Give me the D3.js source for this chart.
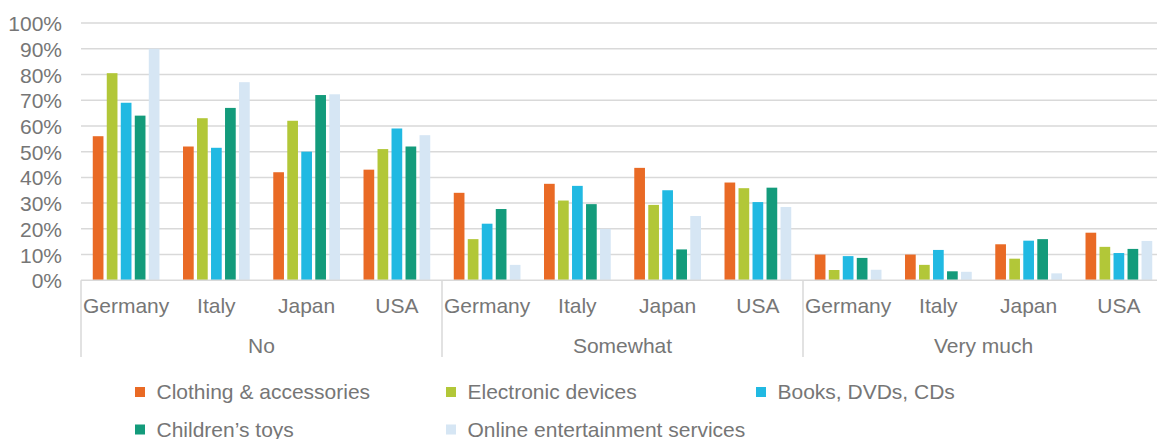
<!DOCTYPE html>
<html>
<head>
<meta charset="utf-8">
<script src="https://cdn.jsdelivr.net/npm/d3@7"></script>
<style>
  html, body { margin: 0; padding: 0; background: #fff; }
  svg text { font-family: "Liberation Sans", Arial, sans-serif; fill: #767676; }
</style>
</head>
<body>
<svg id="chart" width="1157" height="439"></svg>
<script>
const groups = ["No", "Somewhat", "Very much"];
const countries = ["Germany", "Italy", "Japan", "USA"];
const seriesNames = ["Clothing & accessories", "Electronic devices", "Books, DVDs, CDs", "Children\u2019s toys", "Online entertainment services"];
const colors = ["#E96A25", "#B2C738", "#21B9E2", "#139B7B", "#D6E6F4"];
const yTicks = [0, 10, 20, 30, 40, 50, 60, 70, 80, 90, 100];

// values per series, ordered: No(Germany, Italy, Japan, USA), Somewhat(...), Very much(...)
const clothing     = [56, 52, 42, 43, 34, 37.5, 43.7, 38, 10, 10, 14, 18.5];
const electronics  = [80.5, 63, 62, 51, 16, 31, 29.3, 35.8, 4, 6, 8.4, 13];
const books        = [69, 51.5, 50, 59, 22, 36.7, 35, 30.4, 9.4, 11.8, 15.4, 10.6];
const toys         = [64, 67, 72, 52, 27.7, 29.6, 12, 36, 8.7, 3.5, 16, 12.2];
const online       = [90, 77, 72.3, 56.4, 6, 20, 25, 28.5, 4.1, 3.3, 2.7, 15.3];
const seriesValues = [clothing, electronics, books, toys, online];

(function () {
const svg = d3.select("#chart");
const mLeft = 81, mRight = 1164, mTop = 23, mBottom = 280.3;

const keys = [];
groups.forEach(g => countries.forEach(c => keys.push(g + "|" + c)));

const x0 = d3.scaleBand().domain(keys).range([mLeft, mRight]);
const xg = d3.scaleBand().domain(groups).range([mLeft, mRight]);
const x1 = d3.scaleBand().domain(d3.range(seriesNames.length))
  .range([0, x0.bandwidth()]).paddingInner(0.236).paddingOuter(0.84);
const y = d3.scaleLinear().domain([0, 100]).range([mBottom, mTop]);

// gridlines
svg.append("g").selectAll("line").data(yTicks.filter(t => t > 0)).join("line")
  .attr("x1", mLeft).attr("x2", 1157)
  .attr("y1", d => y(d)).attr("y2", d => y(d))
  .attr("stroke", "#d9d9d9").attr("stroke-width", 1.5);

// y axis labels
const yAxis = d3.axisLeft(y).tickValues(yTicks).tickFormat(d => d + "%").tickSize(0).tickPadding(0);
const ya = svg.append("g").attr("transform", `translate(62,0)`).call(yAxis);
ya.select(".domain").remove();
ya.selectAll("text").attr("font-size", 21).attr("fill", "#767676")
  .style("font-family", "'Liberation Sans', Arial, sans-serif").attr("dy", "0.36em");

// bars
const barData = [];
seriesValues.forEach((vals, si) => vals.forEach((v, ki) => barData.push({si, key: keys[ki], v})));
svg.append("g").selectAll("rect").data(barData).join("rect")
  .attr("x", d => x0(d.key) + x1(d.si))
  .attr("width", x1.bandwidth())
  .attr("y", d => y(d.v))
  .attr("height", d => y(0) - y(d.v))
  .attr("fill", d => colors[d.si]);

// baseline
svg.append("line").attr("x1", mLeft).attr("x2", 1157).attr("y1", mBottom).attr("y2", mBottom)
  .attr("stroke", "#d9d9d9").attr("stroke-width", 1.5);

// group separators
const seps = groups.map(g => xg(g));
svg.append("g").selectAll("line").data(seps).join("line")
  .attr("x1", d => d).attr("x2", d => d).attr("y1", mBottom).attr("y2", 357)
  .attr("stroke", "#d9d9d9").attr("stroke-width", 1.5);

// country labels
svg.append("g").selectAll("text").data(keys).join("text")
  .attr("x", d => x0(d) + x0.bandwidth() / 2)
  .attr("y", 313)
  .attr("text-anchor", "middle").attr("font-size", 21)
  .text(d => d.split("|")[1]);

// group labels
svg.append("g").selectAll("text").data(groups).join("text")
  .attr("x", d => xg(d) + xg.bandwidth() / 2)
  .attr("y", 352.5)
  .attr("text-anchor", "middle").attr("font-size", 21)
  .text(d => d);

// legend
const legendPos = [[135, 392], [446, 392], [756, 392], [135, 429.5], [446, 429.5]];
const lg = svg.append("g").selectAll("g").data(seriesNames).join("g")
  .attr("transform", (d, i) => `translate(${legendPos[i][0]},${legendPos[i][1]})`);
lg.append("rect").attr("x", 0).attr("y", -5).attr("width", 10).attr("height", 10)
  .attr("fill", (d, i) => colors[i]);
lg.append("text").attr("x", 21.5).attr("y", 7).attr("font-size", 21).text(d => d);
})();
</script>
</body>
</html>
